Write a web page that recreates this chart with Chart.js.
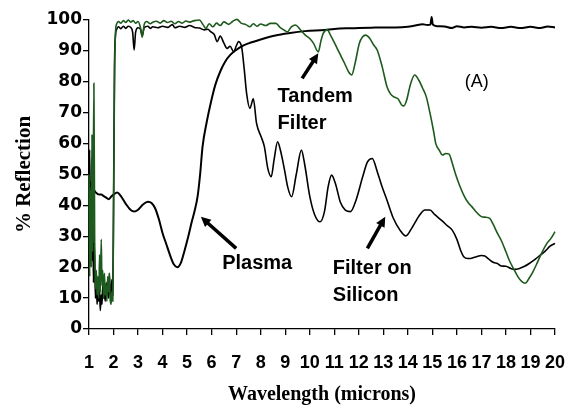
<!DOCTYPE html>
<html>
<head>
<meta charset="utf-8">
<script src="https://cdn.jsdelivr.net/npm/chart.js@4.4.1/dist/chart.umd.min.js"></script>
<style>
  html, body { margin: 0; padding: 0; background: #ffffff; }
</style>
</head>
<body>
<canvas id="graficoReflexao" width="582" height="407"></canvas>
<script>
// Plasma reflector (black, heavier line)
const plasmaX = [1.0, 1.1, 1.2, 1.3, 1.4, 1.5, 1.6, 1.7, 1.8, 1.9, 2.0, 2.15, 2.3, 2.5, 2.7, 2.85, 3.0, 3.2, 3.4, 3.55, 3.7, 3.85, 4.0, 4.15, 4.3, 4.45, 4.6, 4.75, 4.9, 5.05, 5.2, 5.3, 5.43, 5.53, 5.63, 5.8, 5.96, 6.15, 6.36, 6.55, 6.76, 7.0, 7.3, 7.6, 8.0, 8.6, 9.2, 9.8, 10.6, 11.0, 11.5, 12.0, 12.5, 13.0, 13.5, 14.0, 14.3, 14.6, 14.8, 14.92, 14.97, 15.02, 15.2, 15.5, 15.8, 16.0, 16.3, 16.6, 17.0, 17.4, 17.8, 18.2, 18.6, 19.0, 19.4, 19.7, 20.0];
const plasmaY = [48, 46, 45, 44, 43.5, 43.5, 43, 42.5, 42, 42.8, 43.5, 44.2, 43, 40.5, 38.5, 38, 38.6, 40.3, 41.2, 40.8, 39, 35.5, 31, 27.5, 24, 21, 20, 21.5, 25.5, 30, 35, 38, 43, 50, 59, 67, 73, 79, 83.5, 86.5, 88.7, 90.3, 91.8, 92.7, 93.7, 95, 95.8, 96.4, 96.8, 97.1, 97.3, 97.4, 97.5, 97.6, 97.6, 97.8, 98.2, 98.6, 98.4, 98.5, 101, 98.5, 98, 97.9, 97.4, 98, 97.6, 97.8, 97.5, 97.8, 97.4, 97.8, 97.4, 97.8, 97.4, 97.9, 97.6];

// Filter on silicon (black)
const siliconX = [1.0, 1.03, 1.06, 1.09, 1.12, 1.15, 1.18, 1.22, 1.26, 1.3, 1.33, 1.36, 1.4, 1.43, 1.46, 1.5, 1.53, 1.56, 1.6, 1.63, 1.66, 1.7, 1.73, 1.76, 1.8, 1.83, 1.86, 1.9, 1.93, 1.97, 2.0, 2.04, 2.08, 2.13, 2.2, 2.3, 2.4, 2.5, 2.6, 2.7, 2.78, 2.84, 2.9, 3.0, 3.1, 3.17, 3.25, 3.4, 3.5, 3.6, 3.8, 4.0, 4.2, 4.4, 4.5, 4.7, 4.9, 5.1, 5.3, 5.5, 5.7, 5.85, 5.96, 6.1, 6.23, 6.35, 6.5, 6.63, 6.75, 6.9, 7.0, 7.1, 7.23, 7.33, 7.43, 7.56, 7.7, 7.83, 8.03, 8.15, 8.29, 8.43, 8.55, 8.69, 8.8, 8.96, 9.1, 9.26, 9.45, 9.66, 9.8, 10.0, 10.2, 10.42, 10.6, 10.75, 10.89, 11.05, 11.25, 11.45, 11.66, 11.9, 12.15, 12.35, 12.55, 12.75, 12.95, 13.15, 13.4, 13.68, 13.92, 14.15, 14.45, 14.7, 14.9, 15.1, 15.4, 15.6, 15.81, 16.0, 16.15, 16.28, 16.45, 16.61, 16.8, 17.0, 17.14, 17.3, 17.5, 17.65, 17.8, 18.0, 18.2, 18.34, 18.55, 18.74, 18.95, 19.2, 19.4, 19.6, 19.8, 20.0];
const siliconY = [48, 58, 30, 45, 22, 40, 15, 28, 10, 14, 8, 12, 9, 13, 6, 11, 8, 14, 10, 12, 9, 15, 11, 13, 10, 18, 12, 10, 16, 11, 40, 85, 95, 97, 97.8, 97.2, 98, 97.3, 98, 97.6, 96, 90.3, 96, 97.5, 97, 95, 97.5, 98, 97.3, 97.8, 97.5, 98, 97.6, 98.5, 97.5, 98, 97.6, 98.2, 97.6, 97.4, 96.8, 97, 96.2, 95.4, 93, 94.8, 92.5, 90.8, 91.5, 89.7, 91.5, 93, 91, 84, 76, 71.4, 74.5, 66.6, 62, 59, 52, 49.3, 55, 60.6, 58, 52, 46, 42.8, 50, 57.9, 53, 43, 37, 34.7, 38, 46, 49.8, 47, 41, 38.5, 38, 42, 49, 54, 55.2, 51, 46, 41.7, 36, 32, 30.1, 32.5, 36.5, 38.5, 38.5, 37, 35, 33.5, 32, 29, 25.5, 23.4, 22.8, 22.9, 23.4, 23.8, 23.6, 22.6, 21.5, 21.2, 20.4, 20.3, 19.6, 19.3, 19.6, 20.2, 21.2, 22.6, 23.9, 25.2, 26.8, 27.7];

// Tandem filter (green)
const tandemX = [1.0, 1.03, 1.06, 1.09, 1.12, 1.15, 1.2, 1.23, 1.26, 1.3, 1.33, 1.36, 1.4, 1.43, 1.46, 1.5, 1.53, 1.56, 1.6, 1.63, 1.66, 1.7, 1.73, 1.76, 1.8, 1.83, 1.86, 1.9, 1.93, 1.97, 2.0, 2.04, 2.08, 2.13, 2.2, 2.3, 2.4, 2.5, 2.6, 2.7, 2.8, 2.9, 3.0, 3.1, 3.17, 3.25, 3.35, 3.5, 3.6, 3.75, 3.9, 4.05, 4.2, 4.35, 4.5, 4.65, 4.8, 4.95, 5.1, 5.3, 5.5, 5.65, 5.76, 5.9, 6.05, 6.2, 6.35, 6.5, 6.7, 6.85, 7.03, 7.2, 7.4, 7.56, 7.7, 7.85, 8.0, 8.2, 8.4, 8.62, 8.8, 9.0, 9.09, 9.25, 9.42, 9.6, 9.82, 10.0, 10.15, 10.35, 10.45, 10.55, 10.72, 10.85, 11.02, 11.2, 11.42, 11.6, 11.71, 11.85, 12.02, 12.15, 12.28, 12.45, 12.6, 12.75, 12.95, 13.15, 13.3, 13.41, 13.6, 13.75, 13.84, 13.95, 14.1, 14.28, 14.45, 14.6, 14.75, 14.9, 15.05, 15.14, 15.28, 15.41, 15.55, 15.68, 15.8, 15.95, 16.08, 16.3, 16.45, 16.61, 16.8, 17.01, 17.15, 17.34, 17.5, 17.65, 17.8, 18.0, 18.15, 18.34, 18.5, 18.65, 18.78, 18.95, 19.1, 19.27, 19.45, 19.67, 19.85, 20.0];
const tandemY = [50, 17, 45, 20, 63, 25, 79.5, 30, 13, 19, 11, 17, 10, 24, 12, 29, 14, 19, 10, 18, 11, 14, 9, 17, 12, 18, 10, 8, 12, 9, 35, 80, 96, 98.8, 99.5, 99, 99.8, 99.2, 100, 99.3, 99.8, 99, 99.5, 97.5, 94.4, 98.5, 99.5, 98.8, 99.3, 99.6, 99, 99.8, 99.2, 99.6, 98.8, 99.5, 99, 99.7, 99.3, 99.8, 100, 98.5, 97.3, 98.8, 97.8, 99, 98.2, 99.4, 98.6, 99.5, 100.2, 99, 98.5, 97.8, 98.8, 98, 98.7, 98.2, 98.9, 98.9, 97.5, 96.5, 96.2, 97.8, 98.4, 97, 95.1, 94, 92.5, 89.7, 93, 95.7, 96.8, 95, 92.4, 89.5, 86, 83, 82.2, 86, 92.4, 94.5, 95.1, 94, 92, 90.3, 85, 78.4, 76, 75.2, 74.5, 72.5, 72.2, 74, 79, 82.2, 80.5, 78, 75.2, 70, 64, 60, 57.9, 56.3, 56.8, 56.6, 54, 50, 47.1, 43, 41, 39.6, 37.8, 36.3, 36.2, 35.8, 33.5, 31, 28.8, 25, 22, 19.1, 16.8, 15.3, 14.8, 16.5, 18.5, 21.3, 24.5, 27.7, 29.5, 31.5];

const eixoY = { min: 0, max: 100, passo: 10 };
const eixoX = { min: 1, max: 20, passo: 1 };

// Labels and arrows, placed in axis units
const rotulos = [
    { linhas: ['Plasma'], x: 6.43, y: 19.4 },
    { linhas: ['Tandem', 'Filter'], x: 8.69, y: 73.6 },
    { linhas: ['Filter on', 'Silicon'], x: 10.94, y: 17.8 },
];
const setas = [
    { de: [7.0, 26.1], para: [5.56, 36.3] },
    { de: [9.69, 81.1], para: [10.35, 89.2] },
    { de: [12.35, 26.1], para: [13.08, 36.3] },
];

const pares = (xs, ys) => xs.map((x, i) => ({ x: x, y: ys[i] }));

const anotacoes = {
    id: 'anotacoes',
    afterDatasetsDraw(chart) {
        const ctx = chart.ctx;
        const sx = chart.scales.x, sy = chart.scales.y;
        ctx.save();
        ctx.fillStyle = '#000';
        ctx.strokeStyle = '#000';

        setas.forEach(s => {
            const x0 = sx.getPixelForValue(s.de[0]), y0 = sy.getPixelForValue(s.de[1]);
            const x1 = sx.getPixelForValue(s.para[0]), y1 = sy.getPixelForValue(s.para[1]);
            const ang = Math.atan2(y1 - y0, x1 - x0);
            const cabeca = 11;
            ctx.lineWidth = 3.5;
            ctx.lineCap = 'butt';
            ctx.beginPath();
            ctx.moveTo(x0, y0);
            ctx.lineTo(x1 - Math.cos(ang) * cabeca * 0.8, y1 - Math.sin(ang) * cabeca * 0.8);
            ctx.stroke();
            ctx.beginPath();
            ctx.moveTo(x1, y1);
            ctx.lineTo(x1 - cabeca * Math.cos(ang - 0.45), y1 - cabeca * Math.sin(ang - 0.45));
            ctx.lineTo(x1 - cabeca * Math.cos(ang + 0.45), y1 - cabeca * Math.sin(ang + 0.45));
            ctx.closePath();
            ctx.fill();
        });

        ctx.font = 'bold 20px "Liberation Sans", Arial, sans-serif';
        ctx.textAlign = 'left';
        ctx.textBaseline = 'alphabetic';
        rotulos.forEach(r => {
            const px = sx.getPixelForValue(r.x);
            const py = sy.getPixelForValue(r.y);
            r.linhas.forEach((t, i) => ctx.fillText(t, px, py + i * 27));
        });

        ctx.font = '18px "Liberation Sans", Arial, sans-serif';
        ctx.fillText('(A)', sx.getPixelForValue(16.32), sy.getPixelForValue(78.3));
        ctx.restore();
    }
};

new Chart(document.getElementById('graficoReflexao'), {
    type: 'line',
    data: {
        datasets: [
            {
                label: 'Plasma',
                data: pares(plasmaX, plasmaY),
                borderColor: '#000000',
                borderWidth: 2,
                pointRadius: 0,
                cubicInterpolationMode: 'monotone',
                clip: 6,
                order: 3
            },
            {
                label: 'Filter on Silicon',
                data: pares(siliconX, siliconY),
                borderColor: '#000000',
                borderWidth: 1.6,
                pointRadius: 0,
                cubicInterpolationMode: 'monotone',
                clip: 6,
                order: 2
            },
            {
                label: 'Tandem Filter',
                data: pares(tandemX, tandemY),
                borderColor: '#1d5a1d',
                borderWidth: 1.6,
                pointRadius: 0,
                cubicInterpolationMode: 'monotone',
                clip: 6,
                order: 1
            }
        ]
    },
    options: {
        responsive: false,
        animation: false,
        layout: { padding: { top: 20, right: 17, bottom: 0, left: 0 } },
        plugins: {
            legend: { display: false },
            tooltip: { enabled: false }
        },
        scales: {
            x: {
                type: 'linear',
                min: eixoX.min,
                max: eixoX.max,
                afterFit: (s) => { s.height = 78; },
                border: { color: '#000', width: 1.3 },
                grid: { drawOnChartArea: false, drawTicks: true, tickLength: 6, color: '#000', lineWidth: 1.3 },
                ticks: {
                    stepSize: eixoX.passo,
                    padding: 17,
                    color: '#000',
                    maxRotation: 0,
                    autoSkip: false,
                    font: { family: '"Liberation Sans Narrow", "Liberation Sans", Arial', size: 18, weight: 'bold' }
                },
                title: {
                    display: true,
                    text: 'Wavelength (microns)',
                    color: '#000',
                    padding: { top: 0, bottom: 0 },
                    font: { family: '"Liberation Serif", "Times New Roman", serif', size: 20, weight: 'bold' }
                }
            },
            y: {
                min: eixoY.min,
                max: eixoY.max,
                afterFit: (s) => { s.width = 89; },
                border: { color: '#000', width: 1.3 },
                grid: { drawOnChartArea: false, drawTicks: true, tickLength: 6, color: '#000', lineWidth: 1.3 },
                ticks: {
                    stepSize: eixoY.passo,
                    padding: 1,
                    color: '#000',
                    font: { family: '"DejaVu Sans", sans-serif', size: 17, weight: 'bold' }
                },
                title: {
                    display: true,
                    text: '% Reflection',
                    color: '#000',
                    padding: { top: 12, bottom: 0 },
                    font: { family: '"Liberation Serif", "Times New Roman", serif', size: 21, weight: 'bold' }
                }
            }
        }
    },
    plugins: [anotacoes]
});
</script>
</body>
</html>
